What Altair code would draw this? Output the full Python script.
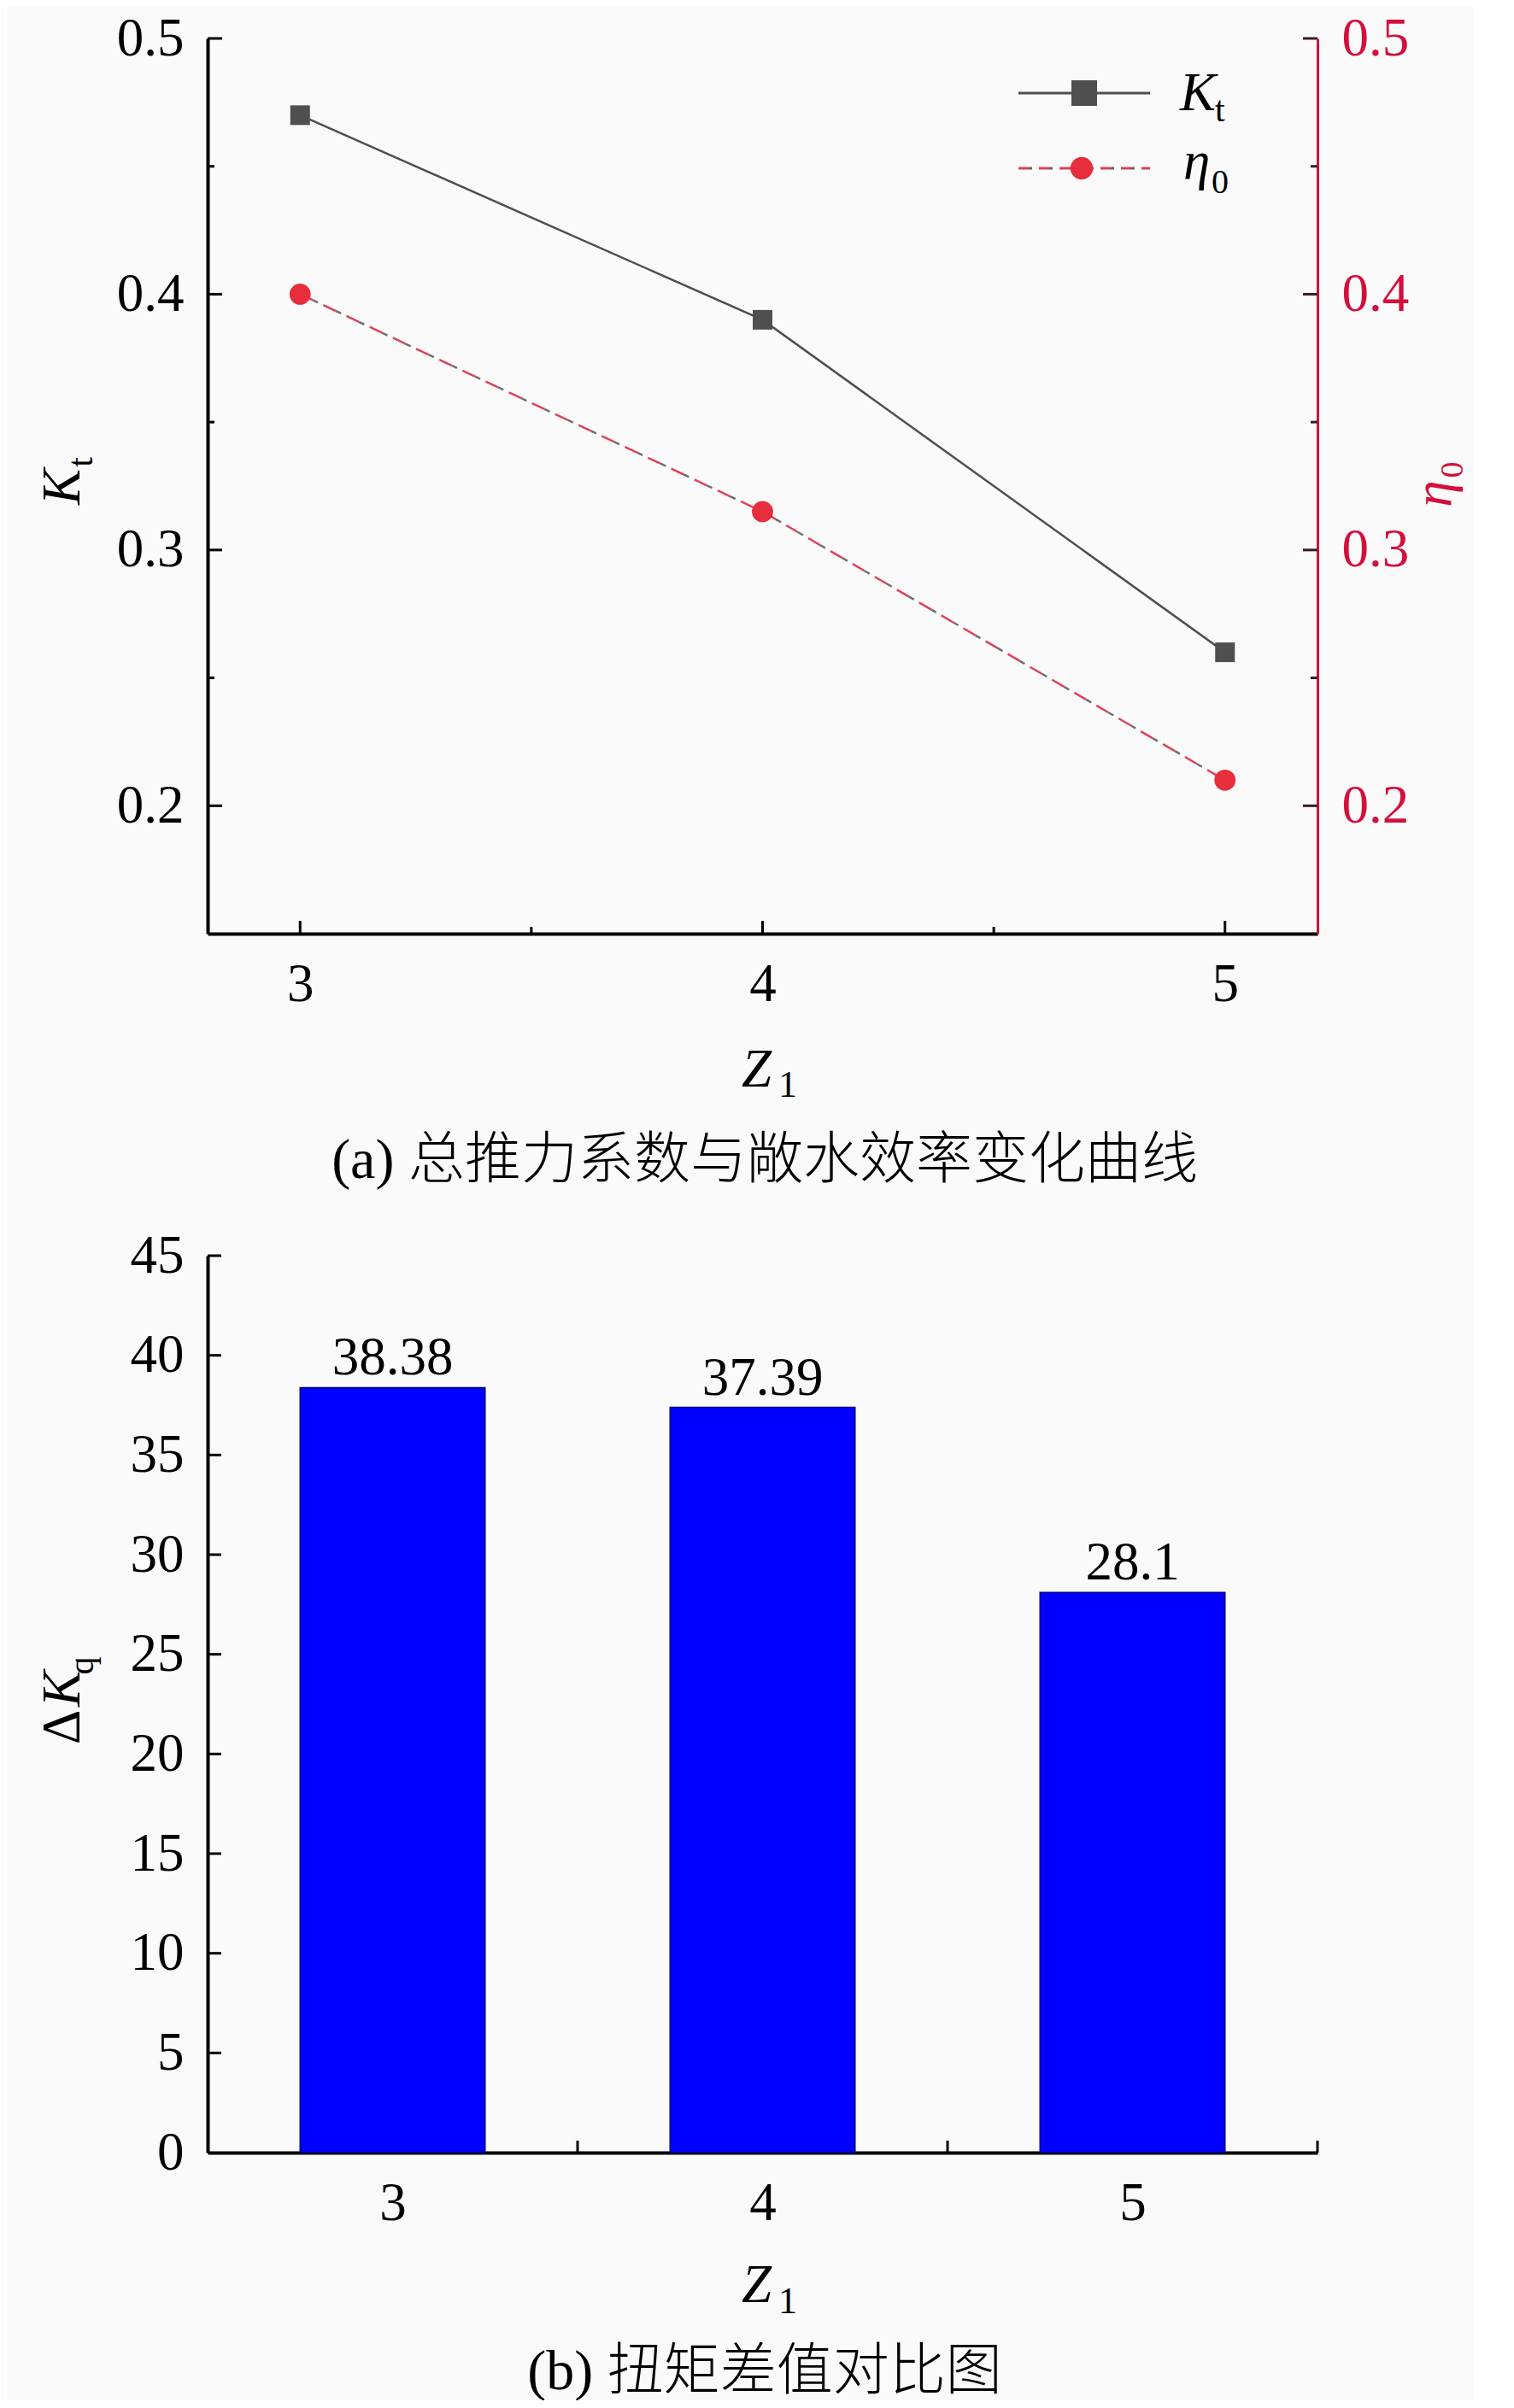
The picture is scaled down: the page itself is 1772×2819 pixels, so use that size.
import altair as alt
import pandas as pd

# ---------------- data ----------------
Z = [3, 4, 5]
Kt = [0.47, 0.39, 0.26]
eta0 = [0.40, 0.315, 0.21]
dKq = [38.38, 37.39, 28.1]
dKq_labels = ["38.38", "37.39", "28.1"]

y1_major = [0.2, 0.3, 0.4, 0.5]
y1_minor = [0.25, 0.35, 0.45]
x1_major = [3, 4, 5]
x1_minor = [3.5, 4.5]
y2_major = [5, 10, 15, 20, 25, 30, 35, 40, 45]
y2_labels = [0, 5, 10, 15, 20, 25, 30, 35, 40, 45]
x2_bounds = [3.5, 4.5, 5.5]

caption_a = "(a) 总推力系数与敞水效率变化曲线"
caption_b = "(b) 扭矩差值对比图"

# ---------------- style ----------------
W = 1299
H1 = 1048
H2 = 1050
SERIF = "Liberation Serif"
CJK = "Liberation Serif, Noto Sans CJK SC"
FS = 63
GRAY = "#4f4f4f"
RED = "#e62e3c"
AXRED = "#d2103c"

df1 = pd.DataFrame({"Z": Z, "Kt": Kt, "eta0": eta0})
df2 = pd.DataFrame({"Z": Z, "dKq": dKq, "label": dKq_labels})

xs1 = alt.Scale(domain=[2.8, 5.2], nice=False, zero=False)
ys1 = alt.Scale(domain=[0.15, 0.5], nice=False, zero=False)
xs2 = alt.Scale(domain=[2.5, 5.5], nice=False, zero=False)
ys2 = alt.Scale(domain=[0, 45], nice=False)


def axis(values, fmt, orient, color="black", width=4, lcolor="black"):
    return alt.Axis(values=values, format=fmt, orient=orient, ticks=False, tickSize=0,
                    grid=False, labelFont=SERIF, labelFontSize=FS, labelColor=lcolor,
                    labelPadding=28, domainColor=color, domainWidth=width, title=None,
                    labelFlush=False, labelOverlap=False)


xa1 = axis(x1_major, "d", "bottom")
ya1 = axis(y1_major, ".1f", "left")
yr1 = axis(y1_major, ".1f", "right", color=AXRED, width=3, lcolor=AXRED)
xa2 = axis(x1_major, "d", "bottom")
ya2 = axis(y2_labels, "d", "left")


def one():
    return alt.Chart(pd.DataFrame({"a": [0]}))


def txt(s, x, y, size=FS, italic=False, angle=0, align="left", color="black",
        font=SERIF, baseline="alphabetic", weight="normal"):
    return alt.Chart(pd.DataFrame({"s": [s]})).mark_text(
        font=font, fontSize=size, fontStyle="italic" if italic else "normal",
        angle=angle, align=align, baseline=baseline, color=color, fontWeight=weight
    ).encode(text="s:N", x=alt.value(x), y=alt.value(y))


def xticks(values, scale, ax, h, length):
    return alt.Chart(pd.DataFrame({"v": values})).mark_rule(color="black", strokeWidth=3).encode(
        x=alt.X("v:Q", scale=scale, axis=ax), y=alt.value(h), y2=alt.value(h - length))


def yticks(values, scale, ax, x0, x1, color="black"):
    return alt.Chart(pd.DataFrame({"v": values})).mark_rule(color=color, strokeWidth=3).encode(
        y=alt.Y("v:Q", scale=scale, axis=ax), x=alt.value(x0), x2=alt.value(x1))


# ---------------- top chart ----------------
kt_line = alt.Chart(df1).mark_line(color=GRAY, strokeWidth=2.5).encode(
    x=alt.X("Z:Q", scale=xs1, axis=xa1), y=alt.Y("Kt:Q", scale=ys1, axis=ya1))
kt_pts = alt.Chart(df1).mark_point(shape="square", filled=True, size=529, color=GRAY, opacity=1).encode(
    x=alt.X("Z:Q", scale=xs1, axis=xa1), y=alt.Y("Kt:Q", scale=ys1, axis=ya1))

leg = [
    one().mark_rule(color=GRAY, strokeWidth=3).encode(x=alt.value(949), x2=alt.value(1103), y=alt.value(64)),
    one().mark_point(shape="square", filled=True, size=900, color=GRAY, opacity=1).encode(
        x=alt.value(1026), y=alt.value(64)),
    txt("K", 1138, 84, italic=True),
    txt("t", 1179, 97, size=42),
    one().mark_rule(color="#e0405a", strokeWidth=3, strokeDash=[12, 12]).encode(
        x=alt.value(949), x2=alt.value(1103), y=alt.value(152)),
    one().mark_rule(color="#666666", strokeWidth=3, strokeDash=[4, 20], strokeDashOffset=-12).encode(
        x=alt.value(949), x2=alt.value(1103), y=alt.value(152)),
    one().mark_point(shape="circle", filled=True, size=700, color=RED, opacity=1).encode(
        x=alt.value(1023), y=alt.value(152)),
    txt("η", 1142, 164, italic=True),
    txt("0", 1175, 181, size=40),
]

titles_top = [
    txt("K", -150, 525, italic=True, angle=270, align="center"),
    txt("t", -135, 496, size=42, angle=270, align="center"),
    txt("η", 1455, 533, italic=True, angle=270, align="center", color=AXRED),
    txt("0", 1469, 505, size=38, angle=270, align="center", color=AXRED),
    txt("Z", 625, 1227, italic=True),
    txt("1", 668, 1239, size=44),
    txt(caption_a, 652, 1334, size=66, align="center", font=CJK, weight=300),
]

left_layer = alt.layer(
    kt_line, kt_pts,
    yticks(y1_major, ys1, ya1, 0, 17),
    yticks(y1_minor, ys1, ya1, 0, 8),
    xticks(x1_major, xs1, xa1, H1, 15),
    xticks(x1_minor, xs1, xa1, H1, 8),
    *leg, *titles_top,
)

eta_red = alt.Chart(df1).mark_line(color="#e0405a", strokeWidth=2.5, strokeDash=[16, 14]).encode(
    x=alt.X("Z:Q", scale=xs1, axis=xa1), y=alt.Y("eta0:Q", scale=ys1, axis=yr1))
eta_gray = alt.Chart(df1).mark_line(color="#707070", strokeWidth=2.5, strokeDash=[7, 23],
                                     strokeDashOffset=-16).encode(
    x=alt.X("Z:Q", scale=xs1, axis=xa1), y=alt.Y("eta0:Q", scale=ys1, axis=yr1))
eta_pts = alt.Chart(df1).mark_point(shape="circle", filled=True, size=616, color=RED, opacity=1).encode(
    x=alt.X("Z:Q", scale=xs1, axis=xa1), y=alt.Y("eta0:Q", scale=ys1, axis=yr1))

right_layer = alt.layer(
    eta_red, eta_gray, eta_pts,
    yticks(y1_major, ys1, yr1, W, W - 17, color="#3a1a22"),
    yticks(y1_minor, ys1, yr1, W, W - 8, color="#3a1a22"),
)

top = alt.layer(left_layer, right_layer).resolve_scale(y="independent").properties(width=W, height=H1)

# ---------------- bottom chart ----------------
bars = alt.Chart(df2).transform_calculate(lo="datum.Z - 0.25", hi="datum.Z + 0.25").mark_bar(
    color="#0000ff", stroke="#00007a", strokeWidth=1.5).encode(
    x=alt.X("lo:Q", scale=xs2, axis=xa2), x2="hi:Q",
    y=alt.Y("dKq:Q", scale=ys2, axis=ya2), y2=alt.datum(0))
bar_text = alt.Chart(df2).mark_text(font=SERIF, fontSize=FS, baseline="alphabetic", dy=-15,
                                    color="black").encode(
    x=alt.X("Z:Q", scale=xs2, axis=xa2), y=alt.Y("dKq:Q", scale=ys2, axis=ya2), text="label:N")

titles_bot = [
    txt("Δ", -150, 552, angle=270, align="center"),
    txt("K", -150, 507, italic=True, angle=270, align="center"),
    txt("q", -134, 480, size=42, angle=270, align="center"),
    txt("Z", 625, 1225, italic=True),
    txt("1", 668, 1238, size=44),
    txt(caption_b, 652, 1327, size=66, align="center", font=CJK, weight=300),
]

bottom = alt.layer(
    bars, bar_text,
    yticks(y2_major, ys2, ya2, 0, 16),
    xticks(x2_bounds, xs2, xa2, H2, 14),
    *titles_bot,
).properties(width=W, height=H2)

chart = alt.vconcat(top, bottom, spacing=377, bounds="flush").properties(
    padding={"left": 35, "top": 6, "right": 5, "bottom": 0},
    background="#fafafa",
).configure_view(stroke=None)

chart.save("out.html", embed_options={"renderer": "svg", "actions": False})
